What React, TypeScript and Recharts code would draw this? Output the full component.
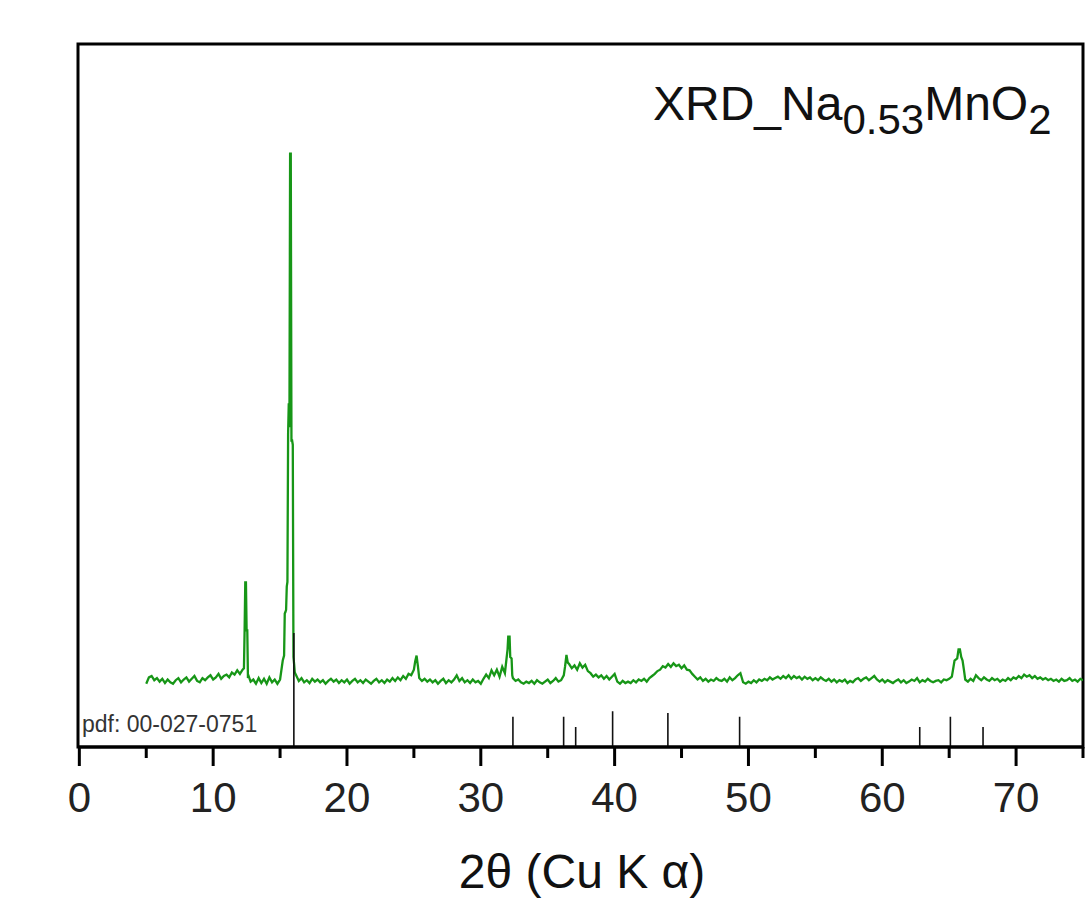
import { ComposedChart, Customized, Line, ReferenceArea, XAxis, YAxis } from "recharts"

const scanStart = 5
const scanStep = 0.2
const scanCounts = [
  9.0, 9.9, 10.1, 9.5, 9.8, // 5
  9.3, 9.7, 9.1, 9.6, 9.2, // 6
  9.0, 9.5, 9.8, 9.2, 9.6, // 7
  9.9, 9.3, 9.7, 10.1, 9.4, // 8
  9.2, 9.8, 9.5, 9.9, 10.2, // 9
  9.6, 9.9, 10.4, 9.7, 10.1, // 10
  10.3, 9.9, 10.6, 10.3, 10.9, // 11
  10.4, 11.0, 23.4, 9.8, 9.3, // 12
  9.6, 9.0, 9.8, 9.1, 9.7, // 13
  9.0, 9.9, 9.2, 9.6, 9.0, // 14
  9.6, 12.3, 19.2, 44.5, 84.4, // 15
  12.8, 10.2, 9.4, 9.8, 9.2, // 16
  9.5, 9.1, 9.7, 9.3, 9.6, // 17
  9.2, 9.5, 9.0, 9.4, 9.7, // 18
  9.3, 9.6, 9.1, 9.5, 9.2, // 19
  9.6, 9.0, 9.4, 9.7, 9.2, // 20
  9.5, 9.1, 9.6, 9.3, 9.0, // 21
  9.4, 9.7, 9.2, 9.5, 9.1, // 22
  9.6, 9.3, 9.8, 9.4, 9.9, // 23
  9.5, 10.1, 9.7, 10.4, 10.2, // 24
  11.0, 13.0, 9.8, 9.4, 9.7, // 25
  9.3, 9.6, 9.2, 9.5, 9.0, // 26
  9.4, 9.7, 9.1, 9.5, 9.2, // 27
  9.6, 10.2, 9.4, 9.8, 9.2, // 28
  9.5, 9.1, 9.6, 9.2, 9.4, // 29
  9.0, 9.7, 10.3, 9.8, 10.9, // 30
  10.2, 11.0, 10.0, 11.4, 10.5, // 31
  13.9, 12.8, 9.8, 9.4, 9.6, // 32
  9.2, 9.0, 9.3, 9.1, 9.4, // 33
  9.0, 9.5, 9.2, 9.0, 9.3, // 34
  9.6, 9.1, 9.4, 9.8, 9.3, // 35
  9.5, 10.2, 13.1, 11.8, 11.2, // 36
  11.6, 11.0, 11.9, 11.3, 11.7, // 37
  10.8, 10.5, 10.0, 10.3, 9.9, // 38
  10.2, 9.7, 10.1, 9.6, 10.0, // 39
  10.4, 9.3, 9.0, 9.4, 9.1, // 40
  9.3, 9.1, 9.5, 9.2, 9.6, // 41
  9.4, 9.7, 9.3, 9.8, 10.1, // 42
  10.4, 10.8, 11.0, 11.5, 11.3, // 43
  11.8, 11.4, 11.9, 11.5, 11.7, // 44
  11.2, 11.6, 11.0, 10.9, 10.4, // 45
  10.0, 9.6, 9.9, 9.4, 9.7, // 46
  9.3, 9.6, 9.4, 9.8, 9.5, // 47
  9.4, 9.7, 9.3, 9.9, 9.5, // 48
  9.8, 10.2, 10.5, 9.2, 9.0, // 49
  9.3, 9.1, 9.5, 9.2, 9.6, // 50
  9.4, 9.7, 9.5, 9.9, 9.6, // 51
  9.8, 10.0, 9.7, 10.1, 9.8, // 52
  10.2, 9.7, 10.1, 9.8, 10.0, // 53
  9.6, 10.0, 9.7, 9.9, 9.5, // 54
  9.8, 9.5, 9.9, 9.6, 9.4, // 55
  9.7, 9.3, 9.6, 9.2, 9.5, // 56
  9.3, 9.6, 9.1, 9.4, 9.2, // 57
  9.6, 9.8, 9.4, 9.7, 9.9, // 58
  9.5, 9.8, 10.1, 9.6, 9.3, // 59
  9.6, 9.2, 9.5, 9.3, 9.1, // 60
  9.4, 9.6, 9.2, 9.5, 9.1, // 61
  9.3, 9.6, 9.4, 9.8, 9.2, // 62
  9.5, 9.3, 9.7, 9.4, 9.2, // 63
  9.4, 9.5, 9.2, 9.6, 9.5, // 64
  9.7, 10.0, 12.3, 12.6, 13.9, // 65
  12.3, 9.6, 9.3, 9.7, 9.4, // 66
  10.2, 9.8, 9.5, 9.9, 9.6, // 67
  9.4, 9.8, 9.5, 9.7, 9.3, // 68
  9.6, 9.4, 9.8, 9.5, 9.9, // 69
  9.7, 10.1, 9.8, 10.3, 10.0, // 70
  10.2, 9.8, 10.1, 9.7, 9.9, // 71
  9.6, 9.8, 9.5, 9.7, 9.4, // 72
  9.6, 9.3, 9.7, 9.4, 9.5, // 73
  9.8, 9.4, 9.6, 9.3, 9.7, // 74
  9.5,
]

// extra points read around the sharp reflections
const peakAngles = [
  12.3, 12.35, 12.45, 12.5, 12.55, 12.65,
  15.3, 15.35, 15.45, 15.5, 15.55, 15.65, 15.7, 15.75, 15.85, 15.9, 15.95, 16.05, 16.1,
  25.1, 25.3, 32.05, 32.15, 32.3, 32.35, 36.3, 36.5, 65.7, 65.9, 66.1,
]
const peakCounts = [
  11.2, 16.6, 23.4, 16.6, 16.6, 10.1,
  13.0, 19.0, 19.5, 22.8, 23.5, 48.9, 45.5, 84.4, 43.6, 43.6, 43.0, 11.8, 10.6,
  12.2, 11.5, 15.7, 15.7, 12.6, 10.2, 11.5, 12.0, 13.9, 12.8, 11.0,
]

// reference pattern pdf 00-027-0751
const stickAngles = [16.03, 32.4, 36.19, 37.09, 39.85, 43.98, 49.34, 62.8, 65.09, 67.53]
const stickHeights = [16.2, 4.3, 4.3, 2.85, 5.1, 4.85, 4.3, 2.85, 4.3, 2.85]

const axisTicks = [0, 5, 10, 15, 20, 25, 30, 35, 40, 45, 50, 55, 60, 65, 70, 75]

const FONT = "'Liberation Sans', Arial, sans-serif"

const scan = [
  ...scanCounts.map((c, i) => ({ angle: Math.round((scanStart + i * scanStep) * 10) / 10, counts: c })),
  ...peakAngles.map((a, i) => ({ angle: a, counts: peakCounts[i] })),
].sort((a, b) => a.angle - b.angle)

const sticks = stickAngles.flatMap((a, i) => [
  { angle: a, ref: 0 },
  { angle: a, ref: stickHeights[i] },
  { angle: a, ref: null },
])

function AngleTick(props: any) {
  const { x, y, payload } = props
  const major = payload.value % 10 === 0
  return (
    <g>
      <line x1={x} x2={x} y1={y} y2={y + (major ? 19 : 11)} stroke="#000" strokeWidth={3} />
      {major && (
        <text x={x} y={y + 65} textAnchor="middle" fontSize={42} fill="#222" fontFamily={FONT}>
          {payload.value}
        </text>
      )}
    </g>
  )
}

function Labels() {
  return (
    <g fontFamily={FONT} fill="#111">
      <text x={653} y={120} fontSize={48}>
        XRD_Na
        <tspan fontSize={42} dy={14}>0.53</tspan>
        <tspan dy={-14}>MnO</tspan>
        <tspan fontSize={42} dy={14}>2</tspan>
      </text>
      <text x={582} y={888} fontSize={48} textAnchor="middle">
        2θ (Cu K α)
      </text>
      <text x={82} y={732} fontSize={23} fill="#333">
        pdf: 00-027-0751
      </text>
    </g>
  )
}

export default function App() {
  return (
    <div style={{ position: "absolute", left: 0, top: 0, background: "#fff" }}>
      <ComposedChart width={1088} height={900} margin={{ top: 44, right: 5, bottom: 0, left: 78 }}>
        <XAxis
          dataKey="angle"
          type="number"
          domain={[-0.1, 75]}
          allowDataOverflow
          ticks={axisTicks}
          interval={0}
          height={153}
          tickSize={0}
          tickMargin={0}
          tick={<AngleTick />}
          axisLine={{ stroke: "#000", strokeWidth: 3 }}
        />
        <YAxis type="number" domain={[0, 100]} hide allowDataOverflow />
        <ReferenceArea x1={-0.1} x2={75} y1={0} y2={100} fill="none" stroke="#000" strokeWidth={3} />
        <Line
          data={scan}
          dataKey="counts"
          type="linear"
          stroke="#179617"
          strokeWidth={2.3}
          dot={false}
          activeDot={false}
          isAnimationActive={false}
        />
        <Line
          data={sticks}
          dataKey="ref"
          type="linear"
          stroke="#111"
          strokeWidth={1.6}
          dot={false}
          activeDot={false}
          connectNulls={false}
          isAnimationActive={false}
        />
        <Customized component={Labels} />
      </ComposedChart>
    </div>
  )
}
